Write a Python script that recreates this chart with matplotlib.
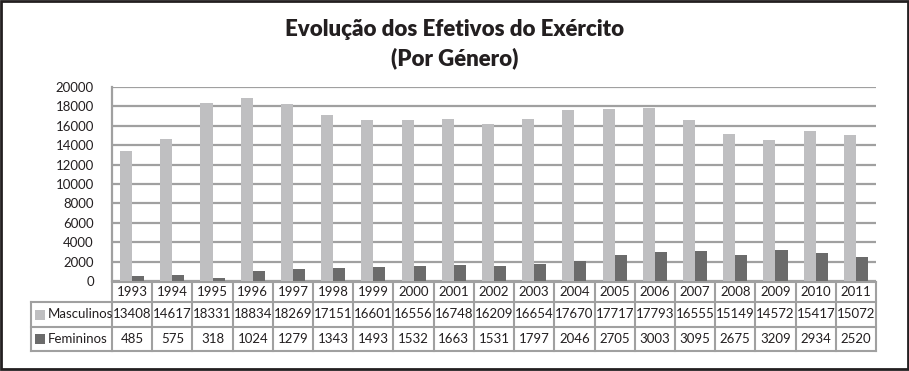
import matplotlib.pyplot as plt
from matplotlib.patches import Rectangle
from matplotlib.lines import Line2D
import matplotlib.transforms as mtransforms

plt.rcParams['font.family'] = ['Lato', 'DejaVu Sans']

# Data
anos = ['1993', '1994', '1995', '1996', '1997', '1998', '1999', '2000', '2001', '2002',
        '2003', '2004', '2005', '2006', '2007', '2008', '2009', '2010', '2011']
masculinos = [13408, 14617, 18331, 18834, 18269, 17151, 16601, 16556, 16748, 16209,
              16654, 17670, 17717, 17793, 16555, 15149, 14572, 15417, 15072]
femininos = [485, 575, 318, 1024, 1279, 1343, 1493, 1532, 1663, 1531,
             1797, 2046, 2705, 3003, 3095, 2675, 3209, 2934, 2520]

c_masc = '#bfbfc1'
c_fem = '#6b6b6b'
c_grid = '#a0a0a0'
c_txt = '#231f20'

W, H = 909, 371
fig = plt.figure(figsize=(W / 100, H / 100), dpi=100)
ax = fig.add_axes([112 / W, (H - 281) / H, 764 / W, 194 / H])

x = list(range(len(anos)))
bw = 0.3
ax.bar([i - bw / 2 for i in x], masculinos, bw, color=c_masc, zorder=3)
ax.bar([i + bw / 2 for i in x], femininos, bw, color=c_fem, zorder=3)

ax.set_xlim(-0.5, len(anos) - 0.5)
ax.set_ylim(0, 20000)
ax.set_yticks(range(0, 20001, 2000))
ax.tick_params(axis='y', length=0, pad=13, labelsize=9.5, labelcolor=c_txt)
ax.set_xticks([])
ax.yaxis.grid(True, color=c_grid, lw=1.6, zorder=0)
for s in ['top', 'right', 'bottom']:
    ax.spines[s].set_visible(False)
ax.spines['left'].set_color(c_grid)
ax.spines['left'].set_linewidth(1.6)

# Title
fig.text(455 / W, 1 - 30 / H, 'Evolução dos Efetivos do Exército', ha='center', va='center',
         fontsize=16, fontweight='heavy', color=c_txt)
fig.text(455 / W, 1 - 58 / H, '(Por Género)', ha='center', va='center',
         fontsize=16, fontweight='heavy', color=c_txt)

# Data table under the chart
trans = mtransforms.blended_transform_factory(ax.transData, fig.transFigure)
ftrans = fig.transFigure
rows_y = [282, 302, 327, 351]  # pixel boundaries from top
fy = [1 - r / H for r in rows_y]
lw_t = 1.5

def hline(x0, x1, y, tr):
    ax.add_line(Line2D([x0, x1], [y, y], transform=tr, color=c_grid, lw=lw_t, clip_on=False))

def vline(xv, y0, y1, tr):
    ax.add_line(Line2D([xv, xv], [y0, y1], transform=tr, color=c_grid, lw=lw_t, clip_on=False))

x0, x1 = -0.5, len(anos) - 0.5
hline(x0, x1, fy[0], trans)
for yv in fy[1:]:
    hline(31 / W, 112 / W, yv, ftrans)
    hline(x0, x1, yv, trans)
for i in range(len(anos) + 1):
    vline(i - 0.5, fy[0], fy[3], trans)
vline(31 / W, fy[1], fy[3], ftrans)

for i, ano in enumerate(anos):
    ax.text(i, (fy[0] + fy[1]) / 2, ano, transform=trans, ha='center', va='center',
            fontsize=9.5, color=c_txt)
    ax.text(i, (fy[1] + fy[2]) / 2, str(masculinos[i]), transform=trans, ha='center',
            va='center', fontsize=9.5, color=c_txt)
    ax.text(i, (fy[2] + fy[3]) / 2, str(femininos[i]), transform=trans, ha='center',
            va='center', fontsize=9.5, color=c_txt)

for (label, col, r) in [('Masculinos', c_masc, 1), ('Femininos', c_fem, 2)]:
    yc = (fy[r] + fy[r + 1]) / 2
    fig.patches.append(Rectangle((35 / W, yc - 5 / H), 10 / W, 10 / H, transform=ftrans,
                                 facecolor=col, edgecolor='none'))
    fig.text(48 / W, yc, label, ha='left', va='center', fontsize=9.5, color=c_txt)

# Outer frame
fig.patches.append(Rectangle((1 / W, 2 / H), (W - 2) / W, (H - 3) / H, transform=ftrans,
                             fill=False, edgecolor=c_txt, lw=2))

fig.savefig('out.png', dpi=100)
